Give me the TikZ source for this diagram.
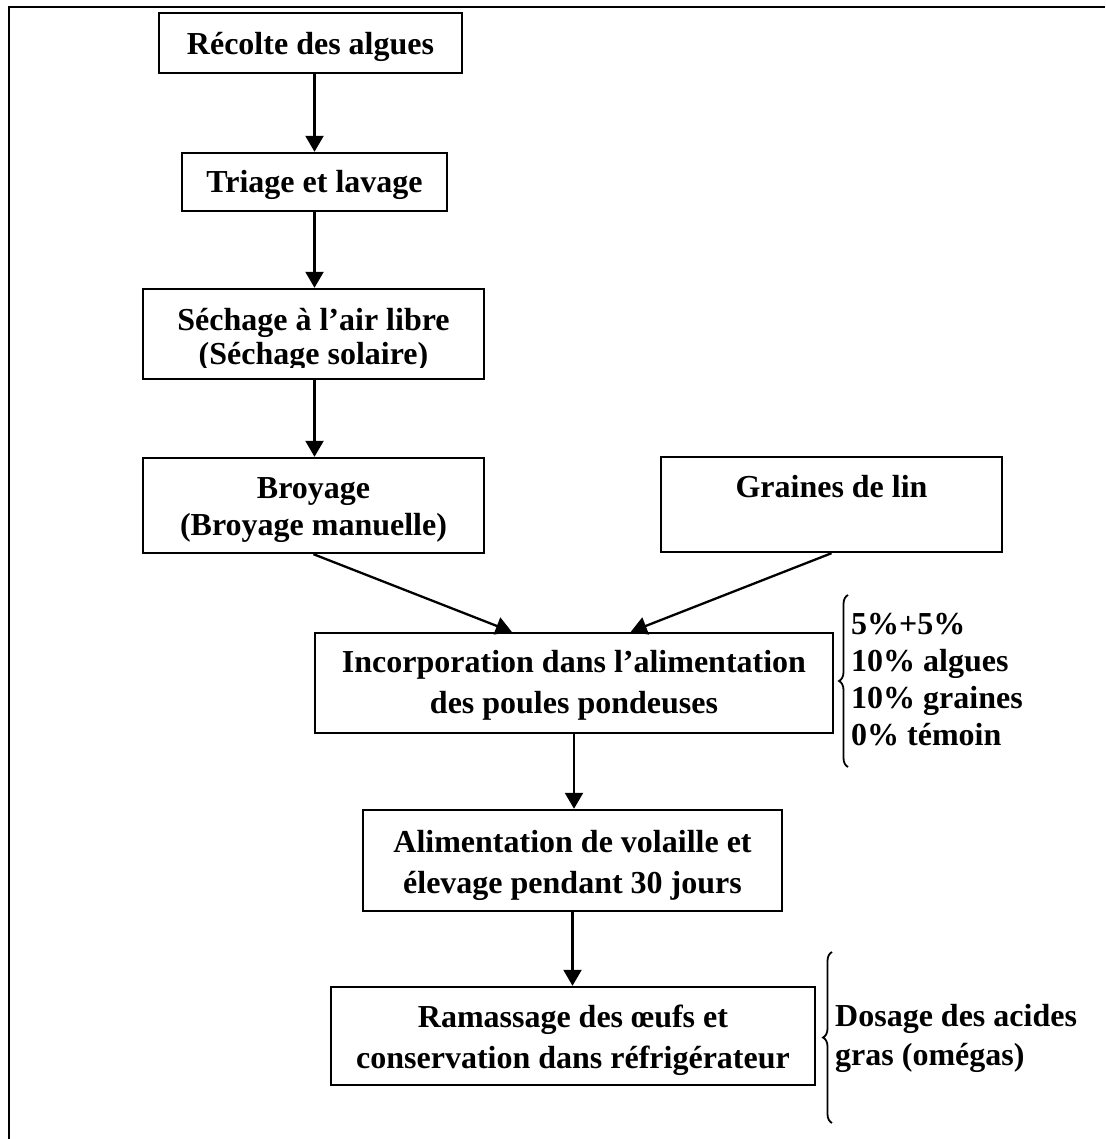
\documentclass[tikz,border=0pt]{standalone}
\usepackage{fontspec}
\setmainfont{Liberation Serif}
\usetikzlibrary{arrows.meta,decorations.pathreplacing,calc}

\begin{document}
\begin{tikzpicture}[x=1pt,y=-1pt,
  box/.style={draw,line width=2.4pt,inner sep=0pt,align=center,
    font=\bfseries\fontsize{32}{41}\selectfont,text depth=0pt},
  boxtext/.style={inner sep=0pt,align=center,text depth=0pt},
  flow/.style={-{Triangle[length=16pt,width=18pt]},line width=2.3pt},
  curly/.style={decorate,decoration={brace,amplitude=9pt},line width=1.8pt},
  note/.style={inner sep=0pt,align=left,anchor=west,text height=0pt,text depth=0pt}
]
\useasboundingbox (0,0) rectangle (1105,1139);

% outer frame
\draw[line width=2.6pt] (9,1139) -- (9,7) -- (1105,7);

% process steps
\node[box,minimum width=303pt,minimum height=60pt,text height=24pt]
  (recolte) at (310.5,43) {Récolte des algues};
\node[box,minimum width=265pt,minimum height=58pt,text height=22pt]
  (triage) at (314.5,182) {Triage et lavage};
\node[box,minimum width=341pt,minimum height=90pt]
  (sechage) at (313.5,334) {};
\begin{scope}
  \clip (sechage.north west) rectangle ($(sechage.east)+(0,33)$);
  \node[boxtext,font=\bfseries\fontsize{32}{34}\selectfont,text height=60pt]
    (sechagetxt) at (sechage.center) {Séchage à l’air libre\\(Séchage solaire)};
\end{scope}
\node[box,minimum width=341pt,minimum height=95pt,text height=59pt,
  font=\bfseries\fontsize{32}{37}\selectfont]
  (broyage) at (313.5,505.5) {Broyage\\(Broyage manuelle)};
\node[box,minimum width=341pt,minimum height=95pt,text height=0pt,text depth=15pt]
  (graines) at (831.5,504.5) {Graines de lin};
\node[box,minimum width=518pt,minimum height=100pt,text height=60pt]
  (incorp) at (574,683) {Incorporation dans l’alimentation\\des poules pondeuses};
\node[box,minimum width=419pt,minimum height=101pt,text height=65pt]
  (alim) at (572.5,860.5) {Alimentation de volaille et\\élevage pendant 30 jours};
\node[box,minimum width=484pt,minimum height=98pt,text height=64pt]
  (ramassage) at (573,1036) {Ramassage des œufs et\\conservation dans réfrigérateur};

% connectors
\draw[flow] (triage.north |- recolte.south) -- (triage.north);
\draw[flow] (triage.south) -- (triage.south |- sechage.north);
\draw[flow] (triage.south |- sechage.south) -- (triage.south |- broyage.north);
\draw[flow] (broyage.south) -- ($(incorp.north west)+(198,0)$);
\draw[flow] (graines.south) -- ($(incorp.north west)+(317,0)$);
\draw[flow] (incorp.south) -- (incorp.south |- alim.north);
\draw[flow] (alim.south) -- (alim.south |- ramassage.north);

% side notes
\draw[curly] (848,767) -- (848,595);
\node[note,font=\bfseries\fontsize{32}{36.7}\selectfont]
  (doses) at (851,745) {5\%+5\%\\10\% algues\\10\% graines\\0\% témoin};
\draw[curly] (832,1123) -- (832,952);
\node[note,font=\bfseries\fontsize{32}{39}\selectfont]
  (dosage) at (835,1065) {Dosage des acides\\gras (omégas)};
\end{tikzpicture}
\end{document}
